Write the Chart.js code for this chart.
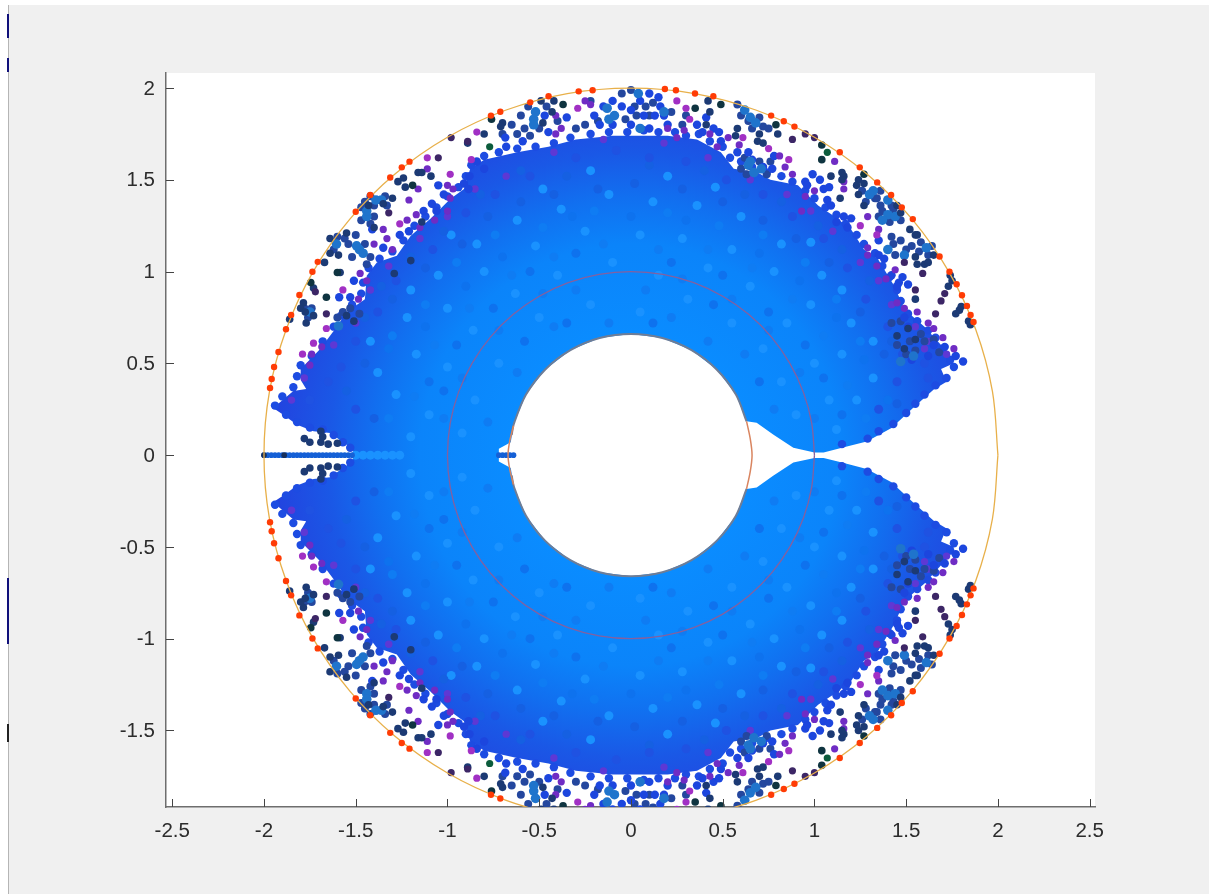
<!DOCTYPE html>
<html>
<head>
<meta charset="utf-8">
<script src="https://cdn.jsdelivr.net/npm/chart.js@4"></script>
<style>
body { margin: 0; background: #fff; }
canvas { display: block; filter: blur(0.4px); }
.mark { position: absolute; left: 7px; width: 2px; background: #10107a; }
</style>
</head>
<body>
<canvas id="myChart" width="1209" height="894"></canvas>
<div class="mark" style="top:14px;height:24px"></div>
<div class="mark" style="top:58px;height:14px"></div>
<div class="mark" style="top:578px;height:66px"></div>
<div class="mark" style="top:724px;height:18px;background:#222"></div>
<script>
const xTicks = [-2.5, -2, -1.5, -1, -0.5, 0, 0.5, 1, 1.5, 2, 2.5];
const yTicks = [-1.5, -1, -0.5, 0, 0.5, 1, 1.5, 2];

const ring2 = [[2,0],[1.97,.347],[1.879,.684],[1.732,1],[1.532,1.286],[1.286,1.532],[1,1.732],[.684,1.879],[.347,1.97],[0,2],[-.347,1.97],[-.684,1.879],[-1,1.732],[-1.286,1.532],[-1.532,1.286],[-1.732,1],[-1.879,.684],[-1.97,.347],[-2,0],[-1.97,-.347],[-1.879,-.684],[-1.732,-1],[-1.532,-1.286],[-1.286,-1.532],[-1,-1.732],[-.684,-1.879],[-.347,-1.97],[0,-2],[.347,-1.97],[.684,-1.879],[1,-1.732],[1.286,-1.532],[1.532,-1.286],[1.732,-1],[1.879,-.684],[1.97,-.347],[2,0]];
const ring1 = [[1,0],[.985,.174],[.94,.342],[.866,.5],[.766,.643],[.643,.766],[.5,.866],[.342,.94],[.174,.985],[0,1],[-.174,.985],[-.342,.94],[-.5,.866],[-.643,.766],[-.766,.643],[-.866,.5],[-.94,.342],[-.985,.174],[-1,0],[-.985,-.174],[-.94,-.342],[-.866,-.5],[-.766,-.643],[-.643,-.766],[-.5,-.866],[-.342,-.94],[-.174,-.985],[0,-1],[.174,-.985],[.342,-.94],[.5,-.866],[.643,-.766],[.766,-.643],[.866,-.5],[.94,-.342],[.985,-.174],[1,0]];
const holeTop = [[.63,.184],[.572,.33],[.467,.467],[.33,.572],[.171,.638],[0,.66],[-.171,.638],[-.33,.572],[-.467,.467],[-.572,.33],[-.638,.171],[-.65,.11]];
const holeBottom = [[.63,-.184],[.572,-.33],[.467,-.467],[.33,-.572],[.171,-.638],[0,-.66],[-.171,-.638],[-.33,-.572],[-.467,-.467],[-.572,-.33],[-.638,-.171],[-.65,-.11]];
const mouthArc = [[.63,.184],[.65,.09],[.66,0],[.65,-.09],[.63,-.184]];
const notchArc = [[-.64,.16],[-.66,.08],[-.67,0],[-.66,-.08],[-.64,-.16]];

// outline of the cloud: outer edge going round the left, then back along the hole
const cloudOutline = [[1,.015],[1.05,.015],[1.15,.04],[1.285,.075],[1.42,.148],[1.54,.26],[1.65,.357],[1.72,.4],[1.69,.47],[1.76,.5],[1.69,.6],[1.6,.7],[1.49,.795],[1.436,.92],[1.345,1.07],[1.27,1.12],[1.2,1.23],[1.11,1.3],[1.02,1.36],[.91,1.47],[.76,1.5],[.69,1.54],[.56,1.56],[.49,1.65],[.36,1.72],[.2,1.74],[.09,1.74],[-.1,1.74],[-.3,1.72],[-.45,1.68],[-.62,1.65],[-.8,1.61],[-.876,1.56],[-.91,1.45],[-.985,1.395],[-1.09,1.29],[-1.2,1.195],[-1.276,1.086],[-1.385,1.05],[-1.44,.977],[-1.45,.85],[-1.55,.78],[-1.6,.704],[-1.695,.577],[-1.8,.47],[-1.8,.41],[-1.77,.36],[-1.84,.35],[-1.95,.257],[-1.895,.22],[-1.82,.166],[-1.73,.13],[-1.64,.12],[-1.55,.057],[-1.52,.03],[-1.5,0],
[-1.52,-.03],[-1.55,-.057],[-1.64,-.12],[-1.73,-.13],[-1.82,-.166],[-1.895,-.22],[-1.95,-.257],[-1.84,-.35],[-1.77,-.36],[-1.8,-.41],[-1.8,-.47],[-1.695,-.577],[-1.6,-.704],[-1.55,-.78],[-1.45,-.85],[-1.44,-.977],[-1.385,-1.05],[-1.276,-1.086],[-1.2,-1.195],[-1.09,-1.29],[-.985,-1.395],[-.91,-1.45],[-.876,-1.56],[-.8,-1.61],[-.62,-1.65],[-.45,-1.68],[-.3,-1.72],[-.1,-1.74],[.09,-1.74],[.2,-1.74],[.36,-1.72],[.49,-1.65],[.56,-1.56],[.69,-1.54],[.76,-1.5],[.91,-1.47],[1.02,-1.36],[1.11,-1.3],[1.2,-1.23],[1.27,-1.12],[1.345,-1.07],[1.436,-.92],[1.49,-.795],[1.6,-.7],[1.69,-.6],[1.76,-.5],[1.69,-.47],[1.72,-.4],[1.65,-.357],[1.54,-.26],[1.42,-.148],[1.285,-.075],[1.15,-.04],[1.05,-.015],[1,-.015],
[.885,-.04],[.775,-.112],[.685,-.176],[.63,-.184],[.572,-.33],[.467,-.467],[.33,-.572],[.171,-.638],[0,-.66],[-.171,-.638],[-.33,-.572],[-.467,-.467],[-.572,-.33],[-.638,-.171],[-.655,-.07],[-.72,-.035],[-.72,.035],[-.655,.07],[-.638,.171],[-.572,.33],[-.467,.467],[-.33,.572],[-.171,.638],[0,.66],[.171,.638],[.33,.572],[.467,.467],[.572,.33],[.63,.184],[.685,.176],[.775,.112],[.885,.04]];
const cloudStops = [[.66,'#0a8cff'],[1.15,'#0b84fa'],[1.4,'#1170f0'],[1.65,'#1a58e6'],[2,'#2440de']];

const softDots = [[.22,.75],[-.12,.72],[.42,.62],[-.42,.7],[.62,.55],[-.62,.45],[.78,.25],[-.78,.18],[.08,.9],[-.3,.9],[.28,.96],[.55,.85],[-.48,.88],[.75,.68],[-.72,.68],[.92,.45],[-.92,.42],[1,.2],[-1.02,.2],[.15,1.12],[-.15,1.15],[.42,1.12],[-.42,1.08],[.66,1.02],[-.65,.98],[.88,.85],[-.88,.8],[1.05,.65],[-1.07,.6],[1.18,.38],[-1.18,.32],[.2,1.32],[-.2,1.33],[.48,1.25],[-.48,1.24],[.72,1.2],[-.74,1.2],[.95,1.05],[-.95,1.05],[1.12,.85],[-1.12,.82],[1.25,.62],[-1.3,.65],[1.28,.2],[-1.32,.2],
[.22,-.75],[-.12,-.72],[.42,-.62],[-.42,-.7],[.62,-.55],[-.62,-.45],[.78,-.25],[-.78,-.18],[.08,-.9],[-.3,-.9],[.28,-.96],[.55,-.85],[-.48,-.88],[.75,-.68],[-.72,-.68],[.92,-.45],[-.92,-.42],[1,-.2],[-1.02,-.2],[.15,-1.12],[-.15,-1.15],[.42,-1.12],[-.42,-1.08],[.66,-1.02],[-.65,-.98],[.88,-.85],[-.88,-.8],[1.05,-.65],[-1.07,-.6],[1.18,-.38],[-1.18,-.32],[.2,-1.32],[-.2,-1.33],[.48,-1.25],[-.48,-1.24],[.72,-1.2],[-.74,-1.2],[.95,-1.05],[-.95,-1.05],[1.12,-.85],[-1.12,-.82],[1.25,-.62],[-1.3,-.65],[1.28,-.2],[-1.32,-.2]];
const bandDots = [[.02,1.48],[-.18,1.45],[.28,1.45],[-.42,1.42],[.5,1.38],[-.6,1.38],[.72,1.28],[-.78,1.3],[.9,1.18],[-.92,1.15],[1.08,1.05],[-1.12,1.02],[1.25,.78],[-1.3,.85],[1.38,.55],[-1.45,.5],[1.45,.28],[-1.4,.2],[-1.55,.35],[.1,1.58],[-.35,1.52],[.4,1.55],[-.6,1.55],[.62,1.42],[-.82,1.42],[.82,1.38],[-1.02,1.22],[1.02,1.25],[-1.2,1.08],[1.15,1.12],[-1.36,.92],[1.3,.95],[-1.45,.75],[1.42,.62],
[.02,-1.48],[-.18,-1.45],[.28,-1.45],[-.42,-1.42],[.5,-1.38],[-.6,-1.38],[.72,-1.28],[-.78,-1.3],[.9,-1.18],[-.92,-1.15],[1.08,-1.05],[-1.12,-1.02],[1.25,-.78],[-1.3,-.85],[1.38,-.55],[-1.45,-.5],[1.45,-.28],[-1.4,-.2],[-1.55,-.35],[.1,-1.58],[-.35,-1.52],[.4,-1.55],[-.6,-1.55],[.62,-1.42],[-.82,-1.42],[.82,-1.38],[-1.02,-1.22],[1.02,-1.25],[-1.2,-1.08],[1.15,-1.12],[-1.36,-.92],[1.3,-.95],[-1.45,-.75],[1.42,-.62]];
const lightDots = [[.05,.78],[-.22,.82],[.31,.85],[.55,.72],[-.5,.75],[.72,.58],[-.72,.5],[.82,.4],[-.85,.3],[.9,.22],[-.92,.12],[.15,.98],[-.1,1.05],[.42,1.02],[-.4,.98],[.65,.92],[-.63,.88],[.85,.72],[-.86,.68],[1,.5],[-1,.48],[1.08,.3],[-1.1,.22],[1.12,.14],[-1.2,.1],[.05,1.2],[-.25,1.22],[.28,1.18],[.55,1.12],[-.52,1.14],[.78,1],[-.8,1],[.98,.82],[-1,.8],[1.15,.55],[-1.17,.55],[1.23,.3],[-1.28,.33],[.12,1.38],[-.12,1.42],[.36,1.36],[-.38,1.34],[.6,1.3],[-.62,1.28],[.82,1.15],[-.84,1.15],[1.04,.98],[-1.05,.98],[1.2,.72],[-1.22,.75],[1.32,.42],[-1.38,.45],[.2,1.52],[-.22,1.55],[.46,1.46],[-.48,1.45],[.98,1.16],[-.98,1.2],[1.15,.9],[-1.2,.9],[1.32,.62],[-1.42,.62],
[.05,-.78],[-.22,-.82],[.31,-.85],[.55,-.72],[-.5,-.75],[.72,-.58],[-.72,-.5],[.82,-.4],[-.85,-.3],[.9,-.22],[-.92,-.12],[.15,-.98],[-.1,-1.05],[.42,-1.02],[-.4,-.98],[.65,-.92],[-.63,-.88],[.85,-.72],[-.86,-.68],[1,-.5],[-1,-.48],[1.08,-.3],[-1.1,-.22],[1.12,-.14],[-1.2,-.1],[.05,-1.2],[-.25,-1.22],[.28,-1.18],[.55,-1.12],[-.52,-1.14],[.78,-1],[-.8,-1],[.98,-.82],[-1,-.8],[1.15,-.55],[-1.17,-.55],[1.23,-.3],[-1.28,-.33],[.12,-1.38],[-.12,-1.42],[.36,-1.36],[-.38,-1.34],[.6,-1.3],[-.62,-1.28],[.82,-1.15],[-.84,-1.15],[1.04,-.98],[-1.05,-.98],[1.2,-.72],[-1.22,-.75],[1.32,-.42],[-1.38,-.45],[.2,-1.52],[-.22,-1.55],[.46,-1.46],[-.48,-1.45],[.98,-1.16],[-.98,-1.2],[1.15,-.9],[-1.2,-.9],[1.32,-.62],[-1.42,-.62],
[-1.5,0],[-1.46,0],[-1.42,0],[-1.38,0],[-1.34,0],[-1.3,0],[-1.26,0]];
const midDots = [[.12,.72],[-.35,.72],[.45,.82],[-.58,.62],[.7,.4],[.22,1.05],[-.3,1.1],[.5,.98],[-.55,1],[.75,.78],[-.75,.8],[.95,.6],[-.95,.6],[1.05,.42],[-1.02,.35],[1.15,.22],[-1.1,.4],[0,1.3],[.3,1.28],[-.32,1.3],[.7,1.1],[-.7,1.08],[.92,.95],[-.9,.92],[1.12,.75],[-1.12,.7],[1.27,.52],[-1.32,.58],[1.4,.3],
[.12,-.72],[-.35,-.72],[.45,-.82],[-.58,-.62],[.7,-.4],[.22,-1.05],[-.3,-1.1],[.5,-.98],[-.55,-1],[.75,-.78],[-.75,-.8],[.95,-.6],[-.95,-.6],[1.05,-.42],[-1.02,-.35],[1.15,-.22],[-1.1,-.4],[0,-1.3],[.3,-1.28],[-.32,-1.3],[.7,-1.1],[-.7,-1.08],[.92,-.95],[-.9,-.92],[1.12,-.75],[-1.12,-.7],[1.27,-.52],[-1.32,-.58],[1.4,-.3]];
const deepDots = [[.1,1.62],[-.08,1.66],[.3,1.6],[-.3,1.62],[.52,1.5],[-.55,1.52],[.72,1.42],[-.74,1.42],[.88,1.3],[-.9,1.32],[1.05,1.18],[-1.08,1.12],[1.18,1.02],[-1.28,.95],[1.28,.85],[-1.38,.78],[1.4,.7],[-1.5,.62],[1.48,.55],[-1.58,.48],[1.6,.5],[-1.65,.4],[1.62,.42],[-1.75,.3],[1.45,.4],[-1.5,.25],[1.35,.25],
[.1,-1.62],[-.08,-1.66],[.3,-1.6],[-.3,-1.62],[.52,-1.5],[-.55,-1.52],[.72,-1.42],[-.74,-1.42],[.88,-1.3],[-.9,-1.32],[1.05,-1.18],[-1.08,-1.12],[1.18,-1.02],[-1.28,-.95],[1.28,-.85],[-1.38,-.78],[1.4,-.7],[-1.5,-.62],[1.48,-.55],[-1.58,-.48],[1.6,-.5],[-1.65,-.4],[1.62,-.42],[-1.75,-.3],[1.45,-.4],[-1.5,-.25],[1.35,-.25]];
const edgeDots = [[1.15,.06],[1.29,.09],[1.35,.13],[1.43,.17],[1.5,.23],[1.55,.28],[1.6,.33],[1.66,.38],[1.72,.42],[1.76,.48],[1.74,.52],[1.7,.58],[1.66,.64],[1.62,.68],[1.56,.73],[1.51,.77],[1.47,.84],[1.45,.9],[1.41,.97],[1.37,1.03],[1.33,1.1],[1.27,1.15],[1.23,1.2],[1.17,1.26],[1.12,1.31],[1.06,1.35],[1,1.4],[.95,1.44],[.88,1.49],[.82,1.52],[.74,1.54],[.66,1.57],[.6,1.6],[.54,1.62],[.5,1.68],[.43,1.71],[.37,1.75],[.3,1.74],[.24,1.76],[.15,1.76],[.07,1.77],[-.02,1.76],[-.12,1.76],[-.22,1.75],[-.33,1.73],[-.42,1.7],[-.52,1.68],[-.62,1.67],[-.72,1.65],[-.8,1.63],[-.87,1.58],[-.9,1.52],[-.94,1.46],[-1,1.41],[-1.06,1.35],[-1.12,1.3],[-1.18,1.25],[-1.24,1.17],[-1.3,1.11],[-1.37,1.07],[-1.43,1.02],[-1.46,.94],[-1.47,.88],[-1.52,.82],[-1.58,.76],[-1.62,.7],[-1.68,.62],[-1.74,.54],[-1.8,.49],[-1.82,.43],[-1.84,.37],[-1.9,.32],[-1.94,.27],[-1.88,.22],[-1.82,.18],[-1.75,.15],[-1.68,.14],[-1.62,.11],[-1.57,.07],[-1.53,.04],
[1.15,-.06],[1.29,-.09],[1.35,-.13],[1.43,-.17],[1.5,-.23],[1.55,-.28],[1.6,-.33],[1.66,-.38],[1.72,-.42],[1.76,-.48],[1.74,-.52],[1.7,-.58],[1.66,-.64],[1.62,-.68],[1.56,-.73],[1.51,-.77],[1.47,-.84],[1.45,-.9],[1.41,-.97],[1.37,-1.03],[1.33,-1.1],[1.27,-1.15],[1.23,-1.2],[1.17,-1.26],[1.12,-1.31],[1.06,-1.35],[1,-1.4],[.95,-1.44],[.88,-1.49],[.82,-1.52],[.74,-1.54],[.66,-1.57],[.6,-1.6],[.54,-1.62],[.5,-1.68],[.43,-1.71],[.37,-1.75],[.3,-1.74],[.24,-1.76],[.15,-1.76],[.07,-1.77],[-.02,-1.76],[-.12,-1.76],[-.22,-1.75],[-.33,-1.73],[-.42,-1.7],[-.52,-1.68],[-.62,-1.67],[-.72,-1.65],[-.8,-1.63],[-.87,-1.58],[-.9,-1.52],[-.94,-1.46],[-1,-1.41],[-1.06,-1.35],[-1.12,-1.3],[-1.18,-1.25],[-1.24,-1.17],[-1.3,-1.11],[-1.37,-1.07],[-1.43,-1.02],[-1.46,-.94],[-1.47,-.88],[-1.52,-.82],[-1.58,-.76],[-1.62,-.7],[-1.68,-.62],[-1.74,-.54],[-1.8,-.49],[-1.82,-.43],[-1.84,-.37],[-1.9,-.32],[-1.94,-.27],[-1.88,-.22],[-1.82,-.18],[-1.75,-.15],[-1.68,-.14],[-1.62,-.11],[-1.57,-.07],[-1.53,-.04]];
const violetDots = [[.18,1.7],[-.15,1.72],[.42,1.62],[-.42,1.65],[.65,1.5],[-.68,1.52],[.85,1.42],[-.85,1.45],[.98,1.33],[-1,1.3],[1.1,1.22],[-1.15,1.18],[1.25,1.05],[-1.32,1.03],[1.35,.95],[-1.42,.9],[1.42,.82],[-1.5,.72],[1.55,.7],[-1.62,.6],[1.62,.62],[-1.78,.42],[1.72,.55],[-1.85,.3],[1.6,.58],
[.18,-1.7],[-.15,-1.72],[.42,-1.62],[-.42,-1.65],[.65,-1.5],[-.68,-1.52],[.85,-1.42],[-.85,-1.45],[.98,-1.33],[-1,-1.3],[1.1,-1.22],[-1.15,-1.18],[1.25,-1.05],[-1.32,-1.03],[1.35,-.95],[-1.42,-.9],[1.42,-.82],[-1.5,-.72],[1.55,-.7],[-1.62,-.6],[1.62,-.62],[-1.78,-.42],[1.72,-.55],[-1.85,-.3],[1.6,-.58]];

const clusterDots = [[1.36,1.36],[1.42,1.36],[1.37,1.33],[1.43,1.34],[1.35,1.3],[1.41,1.27],[1.33,1.4],[1.47,1.28],[1.58,1.16],[1.62,1.09],[1.57,1.11],[1.64,1.14],[1.53,1.14],[1.5,1.12],[1.43,1.15],[1.44,1.09],[1.42,1.19],[1.47,1.17],[.6,1.85],[.64,1.82],[.7,1.84],[.72,1.79],[.66,1.78],[.75,1.78],[.58,1.91],[.62,1.62],[.7,1.6],[.76,1.6],[.6,1.56],[.74,1.53],[.63,1.53],[-.22,1.93],[-.18,1.82],[-.03,1.83],[.03,1.85],[.1,1.85],[.22,1.87],[-.05,1.97],[0,1.99],[.08,1.9],[.12,1.92],[.02,1.9],[.28,1.8],[.3,1.85],[-.6,1.85],[-.56,1.9],[-.5,1.78],[-.46,1.9],[-.58,1.78],[-.55,1.74],[-.4,1.82],[-.65,1.8],[-.3,1.78],[-.25,1.8],[-.7,1.75],[-.62,1.75],[-1.34,1.41],[-1.4,1.36],[-1.33,1.36],[-1.42,1.41],[-1.45,1.38],[-1.47,1.28],[-1.42,1.26],[-1.47,1.35],[-1.4,1.3],[-1.6,1.19],[-1.62,1.12],[-1.54,1.15],[-1.52,1.08],[-1.45,1.15],[-1.42,1.08],[-1.5,1.2],[-1.56,1.18],[-1.44,1.04],[-1.78,.8],[-1.74,.8],[-1.76,.75],[-1.6,.75],[-1.53,.8],[-1.57,.78],[-1.48,.77],[1.5,.55],[1.45,.6],[1.55,.57],[1.6,.62],[1.42,.72],[1.47,.73],[1.58,.66],[1.52,.62],[1.65,.63],[1.68,.56],[1.26,1.44],[1.34,1.4],[1.28,1.38],[1.36,1.44],
[1.36,-1.36],[1.42,-1.36],[1.37,-1.33],[1.43,-1.34],[1.35,-1.3],[1.41,-1.27],[1.33,-1.4],[1.47,-1.28],[1.58,-1.16],[1.62,-1.09],[1.57,-1.11],[1.64,-1.14],[1.53,-1.14],[1.5,-1.12],[1.43,-1.15],[1.44,-1.09],[1.42,-1.19],[1.47,-1.17],[.6,-1.85],[.64,-1.82],[.7,-1.84],[.72,-1.79],[.66,-1.78],[.75,-1.78],[.58,-1.91],[.62,-1.62],[.7,-1.6],[.76,-1.6],[.6,-1.56],[.74,-1.53],[.63,-1.53],[-.22,-1.93],[-.18,-1.82],[-.03,-1.83],[.03,-1.85],[.1,-1.85],[.22,-1.87],[-.05,-1.97],[0,-1.99],[.08,-1.9],[.12,-1.92],[.02,-1.9],[.28,-1.8],[.3,-1.85],[-.6,-1.85],[-.56,-1.9],[-.5,-1.78],[-.46,-1.9],[-.58,-1.78],[-.55,-1.74],[-.4,-1.82],[-.65,-1.8],[-.3,-1.78],[-.25,-1.8],[-.7,-1.75],[-.62,-1.75],[-1.34,-1.41],[-1.4,-1.36],[-1.33,-1.36],[-1.42,-1.41],[-1.45,-1.38],[-1.47,-1.28],[-1.42,-1.26],[-1.47,-1.35],[-1.4,-1.3],[-1.6,-1.19],[-1.62,-1.12],[-1.54,-1.15],[-1.52,-1.08],[-1.45,-1.15],[-1.42,-1.08],[-1.5,-1.2],[-1.56,-1.18],[-1.44,-1.04],[-1.78,-.8],[-1.74,-.8],[-1.76,-.75],[-1.6,-.75],[-1.53,-.8],[-1.57,-.78],[-1.48,-.77],[1.5,-.55],[1.45,-.6],[1.55,-.57],[1.6,-.62],[1.42,-.72],[1.47,-.73],[1.58,-.66],[1.52,-.62],[1.65,-.63],[1.68,-.56],[1.26,-1.44],[1.34,-1.4],[1.28,-1.38],[1.36,-1.44]];
const blueDots = [[.41,1.84],[.36,1.8],[.39,1.76],[.45,1.78],[.48,1.76],[.49,1.71],[.58,1.65],[.64,1.65],[.66,1.61],[.72,1.57],[.77,1.56],[.78,1.63],[.99,1.53],[1.03,1.5],[.95,1.49],[.96,1.47],[1.05,1.45],[1.08,1.46],[1.07,1.39],[1.09,1.36],[1.16,1.3],[1.2,1.29],[1.18,1.24],[1.12,1.27],[1.35,1.17],[1.35,1.09],[1.38,1.07],[1.42,.98],[1.46,.94],[1.48,.97],[1.51,.93],[1.45,.92],[1.81,.51],[1.77,.54],[1.71,.59],[1.65,.6],[1.62,.54],[1.53,.52],[1.49,.75],[1.51,.7],[-.2,1.85],[-.15,1.9],[-.1,1.93],[-.05,1.9],[0,1.88],[.05,1.93],[.1,1.97],[.15,1.95],[.18,1.85],[.13,1.85],[.07,1.85],[0,1.8],[-.1,1.8],[-.17,1.8],[.2,1.8],[.1,1.78],[.16,1.9],[-.35,1.84],[-.47,1.85],[-.45,1.76],[-.59,1.71],[-.685,1.73],[-.68,1.68],[-1.59,.86],[-1.53,.86],[-1.51,.95],[-1.35,1.13],[-1.26,1.2],[-1.21,1.22],[-1.13,1.33],[-1.06,1.33],[-1.085,1.37],[-1.02,1.42],[-1.05,1.47],[-.91,1.48],[-.88,1.52],[-.885,1.45],[-.84,1.6],[-.8,1.56],[-1.41,1.23],
[.41,-1.84],[.36,-1.8],[.39,-1.76],[.45,-1.78],[.48,-1.76],[.49,-1.71],[.58,-1.65],[.64,-1.65],[.66,-1.61],[.72,-1.57],[.77,-1.56],[.78,-1.63],[.99,-1.53],[1.03,-1.5],[.95,-1.49],[.96,-1.47],[1.05,-1.45],[1.08,-1.46],[1.07,-1.39],[1.09,-1.36],[1.16,-1.3],[1.2,-1.29],[1.18,-1.24],[1.12,-1.27],[1.35,-1.17],[1.35,-1.09],[1.38,-1.07],[1.42,-.98],[1.46,-.94],[1.48,-.97],[1.51,-.93],[1.45,-.92],[1.81,-.51],[1.77,-.54],[1.71,-.59],[1.65,-.6],[1.62,-.54],[1.53,-.52],[1.49,-.75],[1.51,-.7],[-.2,-1.85],[-.15,-1.9],[-.1,-1.93],[-.05,-1.9],[0,-1.88],[.05,-1.93],[.1,-1.97],[.15,-1.95],[.18,-1.85],[.13,-1.85],[.07,-1.85],[0,-1.8],[-.1,-1.8],[-.17,-1.8],[.2,-1.8],[.1,-1.78],[.16,-1.9],[-.35,-1.84],[-.47,-1.85],[-.45,-1.76],[-.59,-1.71],[-.685,-1.73],[-.68,-1.68],[-1.59,-.86],[-1.53,-.86],[-1.51,-.95],[-1.35,-1.13],[-1.26,-1.2],[-1.21,-1.22],[-1.13,-1.33],[-1.06,-1.33],[-1.085,-1.37],[-1.02,-1.42],[-1.05,-1.47],[-.91,-1.48],[-.88,-1.52],[-.885,-1.45],[-.84,-1.6],[-.8,-1.56],[-1.41,-1.23]];
const tealDots = [[.62,1.88],[.65,1.84],[.68,1.81],[.71,1.56],[.67,1.54],[.64,1.58],[.65,1.6],[1.32,1.44],[1.3,1.42],[1.4,1.39],[1.4,1.31],[1.44,1.3],[1.37,1.28],[1.61,1.13],[1.4,1.12],[1.49,1.09],[1.54,.54],[1.47,.51],[.18,1.87],[.04,1.97],[.05,1.78],[-.53,1.83],[-.52,1.87],[-.53,1.8],[-.12,1.83],[-.09,1.85],[-.13,1.89],[-1.36,1.39],[-1.39,1.39],[-1.44,1.3],[-1.44,1.33],[-1.605,1.15],[-1.48,1.12],[-1.495,1.14],[-1.46,1.1],[-1.75,.78],[-1.594,.704],
[.62,-1.88],[.65,-1.84],[.68,-1.81],[.71,-1.56],[.67,-1.54],[.64,-1.58],[.65,-1.6],[1.32,-1.44],[1.3,-1.42],[1.4,-1.39],[1.4,-1.31],[1.44,-1.3],[1.37,-1.28],[1.61,-1.13],[1.4,-1.12],[1.49,-1.09],[1.54,-.54],[1.47,-.51],[.18,-1.87],[.04,-1.97],[.05,-1.78],[-.53,-1.83],[-.52,-1.87],[-.53,-1.8],[-.12,-1.83],[-.09,-1.85],[-.13,-1.89],[-1.36,-1.39],[-1.39,-1.39],[-1.44,-1.3],[-1.44,-1.33],[-1.605,-1.15],[-1.48,-1.12],[-1.495,-1.14],[-1.46,-1.1],[-1.75,-.78],[-1.594,-.704]];
const purpleDots = [[.2,1.78],[.25,1.73],[.29,1.77],[.43,1.75],[.53,1.73],[.47,1.68],[.59,1.69],[.84,1.57],[.81,1.63],[.88,1.53],[1.11,1.6],[1.16,1.49],[1.16,1.45],[1.29,1.3],[1.35,1.23],[1.29,1.13],[1.29,1.09],[1.34,1.03],[1.39,.96],[1.44,1.01],[1.45,.83],[1.49,.8],[1.56,.78],[1.62,.72],[1.65,.69],[1.7,.64],[1.76,.58],[.95,1.41],[1,1.44],[.93,1.33],[-.25,1.93],[-.22,1.91],[-.41,1.85],[-.38,1.78],[-.41,1.75],[-1.11,1.56],[-1.16,1.45],[-1.21,1.39],[-1,1.47],[-.97,1.45],[-.985,1.4],[-1,1.33],[-1.17,1.31],[-1.22,1.28],[-1.07,1.28],[-1.15,1.24],[-1.35,1.23],[-1.33,1.18],[-1.4,1.15],[-1.3,1.12],[-1.476,.99],[-1.44,.95],[-1.485,.85],[-1.74,.55],[-1.685,.59],[-1.75,.49],
[.2,-1.78],[.25,-1.73],[.29,-1.77],[.43,-1.75],[.53,-1.73],[.47,-1.68],[.59,-1.69],[.84,-1.57],[.81,-1.63],[.88,-1.53],[1.11,-1.6],[1.16,-1.49],[1.16,-1.45],[1.29,-1.3],[1.35,-1.23],[1.29,-1.13],[1.29,-1.09],[1.34,-1.03],[1.39,-.96],[1.44,-1.01],[1.45,-.83],[1.49,-.8],[1.56,-.78],[1.62,-.72],[1.65,-.69],[1.7,-.64],[1.76,-.58],[.95,-1.41],[1,-1.44],[.93,-1.33],[-.25,-1.93],[-.22,-1.91],[-.41,-1.85],[-.38,-1.78],[-.41,-1.75],[-1.11,-1.56],[-1.16,-1.45],[-1.21,-1.39],[-1,-1.47],[-.97,-1.45],[-.985,-1.4],[-1,-1.33],[-1.17,-1.31],[-1.22,-1.28],[-1.07,-1.28],[-1.15,-1.24],[-1.35,-1.23],[-1.33,-1.18],[-1.4,-1.15],[-1.3,-1.12],[-1.476,-.99],[-1.44,-.95],[-1.485,-.85],[-1.74,-.55],[-1.685,-.59],[-1.75,-.49]];
const magentaDots = [[.25,1.93],[.3,1.89],[.32,1.83],[.61,1.73],[.75,1.67],[.86,1.61],[1.25,1.25],[1.34,1.2],[-.29,1.89],[-.87,1.61],[-.84,1.76],[-.985,1.53],[-1.11,1.62],[-1.57,.9],[-1.66,.69],[-1.73,.61],[-1.79,.55],[-1.26,1.26],
[.25,-1.93],[.3,-1.89],[.32,-1.83],[.61,-1.73],[.75,-1.67],[.86,-1.61],[1.25,-1.25],[1.34,-1.2],[-.29,-1.89],[-.87,-1.61],[-.84,-1.76],[-.985,-1.53],[-1.11,-1.62],[-1.57,-.9],[-1.66,-.69],[-1.73,-.61],[-1.79,-.55],[-1.26,-1.26]];
const navyDots = [[.42,1.93],[.41,1.8],[.43,1.87],[.58,1.78],[.57,1.74],[.69,1.71],[.72,1.7],[.7,1.75],[.8,1.75],[1.09,1.52],[1.15,1.54],[1.16,1.52],[1.15,1.5],[1.24,1.5],[1.23,1.47],[1.27,1.48],[1.24,1.42],[1.27,1.36],[1.14,1.4],[1.45,1.36],[1.47,1.32],[1.55,1.2],[1.52,1.23],[1.56,1.2],[1.55,1.08],[1.6,1.04],[1.56,1.04],[1.62,1.05],[1.65,1.09],[1.74,.98],[1.75,.95],[1.73,.92],[1.55,.85],[1.8,.81],[1.79,.79],[1.77,.77],[1.84,.73],[1.85,.71],[1.45,.65],[1.51,.69],[1.55,.63],[1.49,.58],[-.49,1.93],[-.42,1.93],[-.48,1.81],[-.43,1.87],[-.7,1.81],[-.71,1.79],[-.8,1.75],[-.89,1.7],[-1.16,1.54],[-1.14,1.54],[-1.09,1.52],[-1.24,1.51],[-1.27,1.49],[-1.23,1.46],[-1.3,1.4],[-1.35,1.37],[-1.43,1.36],[-1.4,1.24],[-1.14,1.27],[-1.2,1.06],[-1.29,.99],[-1.585,.995],[-1.67,1.05],[-1.73,.91],[-1.785,.83],[-1.8,.8],[-1.775,.78],[-1.86,.74],[-1.77,.72],[-1.73,.76],[-1.55,.76],[-1.51,.73],[-1.64,1.18],[-1.64,1.1],[-1.594,1.09],[-1.55,1.21],[-1.78,.09],[-1.75,.07],[-1.69,.13],[-1.69,.07],[-1.68,.1],[-1.6,.065],[-1.65,.06],
[.42,-1.93],[.41,-1.8],[.43,-1.87],[.58,-1.78],[.57,-1.74],[.69,-1.71],[.72,-1.7],[.7,-1.75],[.8,-1.75],[1.09,-1.52],[1.15,-1.54],[1.16,-1.52],[1.15,-1.5],[1.24,-1.5],[1.23,-1.47],[1.27,-1.48],[1.24,-1.42],[1.27,-1.36],[1.14,-1.4],[1.45,-1.36],[1.47,-1.32],[1.55,-1.2],[1.52,-1.23],[1.56,-1.2],[1.55,-1.08],[1.6,-1.04],[1.56,-1.04],[1.62,-1.05],[1.65,-1.09],[1.74,-.98],[1.75,-.95],[1.73,-.92],[1.55,-.85],[1.8,-.81],[1.79,-.79],[1.77,-.77],[1.84,-.73],[1.85,-.71],[1.45,-.65],[1.51,-.69],[1.55,-.63],[1.49,-.58],[-.49,-1.93],[-.42,-1.93],[-.48,-1.81],[-.43,-1.87],[-.7,-1.81],[-.71,-1.79],[-.8,-1.75],[-.89,-1.7],[-1.16,-1.54],[-1.14,-1.54],[-1.09,-1.52],[-1.24,-1.51],[-1.27,-1.49],[-1.23,-1.46],[-1.3,-1.4],[-1.35,-1.37],[-1.43,-1.36],[-1.4,-1.24],[-1.14,-1.27],[-1.2,-1.06],[-1.29,-.99],[-1.585,-.995],[-1.67,-1.05],[-1.73,-.91],[-1.785,-.83],[-1.8,-.8],[-1.775,-.78],[-1.86,-.74],[-1.77,-.72],[-1.73,-.76],[-1.55,-.76],[-1.51,-.73],[-1.64,-1.18],[-1.64,-1.1],[-1.594,-1.09],[-1.55,-1.21],[-1.78,-.09],[-1.75,-.07],[-1.69,-.13],[-1.69,-.07],[-1.68,-.1],[-1.6,-.065],[-1.65,-.06]];
const plumDots = [[.95,1.75],[1,1.73],[.88,1.72],[1.55,.9],[1.59,.99],[1.49,1.05],[1.66,.77],[1.69,.84],[1.71,.88],[-.98,1.73],[-1.05,1.62],[-.89,1.71],[-1.32,1.32],[-1.66,.77],[-1.72,.89],
[.95,-1.75],[1,-1.73],[.88,-1.72],[1.55,-.9],[1.59,-.99],[1.49,-1.05],[1.66,-.77],[1.69,-.84],[1.71,-.88],[-.98,-1.73],[-1.05,-1.62],[-.89,-1.71],[-1.32,-1.32],[-1.66,-.77],[-1.72,-.89]];
const darkDots = [[.35,1.89],[.49,1.91],[.79,1.8],[1.04,1.69],[1.04,1.61],[1.27,1.53],[-.76,1.83],[-.37,1.91],[-1.19,1.47],[-1.66,.86],[-1.6,.995],[-1.745,.94],
[.35,-1.89],[.49,-1.91],[.79,-1.8],[1.04,-1.69],[1.04,-1.61],[1.27,-1.53],[-.76,-1.83],[-.37,-1.91],[-1.19,-1.47],[-1.66,-.86],[-1.6,-.995],[-1.745,-.94]];
const greenDots = [[1.07,1.65],[-.77,1.68],[1.07,-1.65],[-.77,-1.68]];
const redDots = [[.185,1.995],[.245,1.988],[.349,1.97],[.449,1.955],[.764,1.85],[.833,1.819],[.891,1.79],[1.138,1.65],[1.247,1.568],[1.342,1.486],[1.418,1.417],[1.476,1.35],[1.536,1.286],[1.682,1.082],[1.736,.999],[1.775,.931],[1.804,.871],[1.831,.813],[1.851,.764],[1.867,.726],[-.285,1.982],[-.209,1.988],[-.449,1.955],[-.549,1.922],[-.712,1.871],[-.763,1.85],[-1.207,1.599],[-1.249,1.568],[-1.312,1.513],[-1.421,1.417],[-1.5,1.326],[-1.707,1.053],[-1.736,.999],[-1.807,.873],[-1.852,.764],[-1.88,.686],[-1.921,.562],[-1.945,.48],[-1.958,.415],[-1.967,.366],
[.764,-1.85],[.833,-1.819],[.891,-1.79],[1.138,-1.65],[1.247,-1.568],[1.342,-1.486],[1.418,-1.417],[1.476,-1.35],[1.536,-1.286],[1.682,-1.082],[1.736,-.999],[1.775,-.931],[1.804,-.871],[1.831,-.813],[1.851,-.764],[1.867,-.726],[-.712,-1.871],[-.763,-1.85],[-1.207,-1.599],[-1.249,-1.568],[-1.312,-1.513],[-1.421,-1.417],[-1.5,-1.326],[-1.707,-1.053],[-1.736,-.999],[-1.807,-.873],[-1.852,-.764],[-1.88,-.686],[-1.921,-.562],[-1.945,-.48],[-1.958,-.415],[-1.967,-.366]];
const slitDots = [[-2,0],[-1.98,0],[-1.96,0],[-1.94,0],[-1.92,0],[-1.9,0],[-1.88,0],[-1.86,0],[-1.84,0],[-1.82,0],[-1.8,0],[-1.78,0],[-1.76,0],[-1.74,0],[-1.72,0],[-1.7,0],[-1.68,0],[-1.66,0],[-1.64,0],[-1.62,0],[-1.6,0],[-1.58,0],[-1.56,0],[-1.54,0],[-1.52,0],[-.72,0],[-.7,0],[-.68,0],[-.66,0],[-.64,0]];
const slitDarkDots = [[-2,0],[-1.89,0]];

function dots(data, color, radius) {
    return { data: data, pointRadius: radius, backgroundColor: color, pointBackgroundColor: color, borderWidth: 0, pointBorderWidth: 0 };
}
function curve(data, color, width) {
    return { data: data, showLine: true, tension: 0.33, capBezierPoints: false, pointRadius: 0, borderColor: color, borderWidth: width, fill: false };
}

// bottom to top
const layers = [
    {
        data: cloudOutline, showLine: true, fill: 'shape', pointRadius: 0, borderWidth: 0, tension: 0,
        backgroundColor: function (c) {
            const s = c.chart.scales;
            const x0 = s.x.getPixelForValue(0), y0 = s.y.getPixelForValue(0);
            const unit = s.x.getPixelForValue(1) - x0;
            // scales have no size yet on the first pass
            if (!isFinite(x0) || !isFinite(y0) || !isFinite(unit) || unit <= 0) return '#0a8cff';
            const g = c.chart.ctx.createRadialGradient(x0, y0, 0, x0, y0, 2 * unit);
            cloudStops.forEach(function (st) { g.addColorStop(st[0] / 2, st[1]); });
            return g;
        }
    },
    dots(softDots, '#0f7cf3', 4.5),
    dots(midDots, '#0e72ee', 4.5),
    dots(lightDots, '#1a92ff', 4.5),
    dots(bandDots, '#1560e2', 4.5),
    dots(deepDots, '#1f52e2', 4.5),
    dots(edgeDots, '#1d4ce2', 4.2),
    dots(violetDots, '#5e38d4', 3.7),
    dots(clusterDots, '#24479e', 4),
    dots(blueDots, '#1c46de', 4.2),
    dots(tealDots, '#1f74cc', 4.8),
    dots(purpleDots, '#6f2cc4', 3.6),
    dots(magentaDots, '#a130c4', 3.6),
    dots(navyDots, '#1c3a74', 3.8),
    dots(plumDots, '#3c2666', 3.6),
    dots(darkDots, '#0f3440', 3.8),
    dots(greenDots, '#0c5c3c', 3.6),
    dots(slitDots, '#1560d6', 2.8),
    dots(slitDarkDots, '#18305c', 2.8),
    curve(holeTop, '#6f7d96', 2),
    curve(holeBottom, '#6f7d96', 2),
    curve(mouthArc, '#d98560', 1.5),
    curve(notchArc, '#d98560', 1.5),
    curve(ring1, '#85609f', 1.3),
    curve(ring2, '#e8b04a', 1.3),
    dots(redDots, '#ff3c05', 3.2)
];
layers.forEach(function (d, i) { d.order = layers.length - i; });

const figurePlugin = {
    id: 'figure',
    beforeDraw: function (chart) {
        const ctx = chart.ctx, a = chart.chartArea;
        ctx.save();
        ctx.fillStyle = '#f0f0f0';
        ctx.fillRect(8, 5, chart.width - 8, chart.height - 5);
        ctx.fillStyle = '#b5b5b5';
        ctx.fillRect(8, 5, 1, chart.height - 5);
        ctx.fillStyle = '#fff';
        ctx.fillRect(a.left, a.top, a.right - a.left, a.bottom - a.top);
        ctx.restore();
    },
    afterDatasetsDraw: function (chart) {
        // inward ticks
        const ctx = chart.ctx, a = chart.chartArea, s = chart.scales;
        ctx.save();
        ctx.strokeStyle = '#444';
        ctx.lineWidth = 1;
        ctx.beginPath();
        xTicks.forEach(function (v) {
            const p = Math.round(s.x.getPixelForValue(v)) + 0.5;
            ctx.moveTo(p, a.bottom);
            ctx.lineTo(p, a.bottom - 8);
        });
        yTicks.forEach(function (v) {
            const p = Math.round(s.y.getPixelForValue(v)) + 0.5;
            ctx.moveTo(a.left, p);
            ctx.lineTo(a.left + 8, p);
        });
        ctx.stroke();
        ctx.restore();
    }
};

function axis(min, max, ticks, padding, offset, fit) {
    return {
        type: 'linear',
        min: min,
        max: max,
        afterBuildTicks: function (scale) { scale.ticks = ticks.map(function (v) { return { value: v }; }); },
        afterFit: fit,
        grid: { display: false, drawTicks: false },
        border: { color: '#6e6e6e', width: 1.5 },
        ticks: {
            autoSkip: false,
            maxRotation: 0,
            padding: padding,
            labelOffset: offset,
            color: '#2c2c2c',
            font: { family: 'Liberation Sans', size: 20.5 },
            callback: function (v) { return String(v); }
        }
    };
}

new Chart(document.getElementById('myChart').getContext('2d'), {
    type: 'scatter',
    data: { datasets: layers },
    options: {
        responsive: false,
        animation: false,
        events: [],
        layout: { padding: { top: 73, right: 114, bottom: 0, left: 0 } },
        scales: {
            x: axis(-2.534, 2.529, xTicks, 12, 0, function (s) { s.height = 87; }),
            y: axis(-1.917, 2.082, yTicks, 11, 1, function (s) { s.width = 166; })
        },
        plugins: { legend: { display: false }, tooltip: { enabled: false } }
    },
    plugins: [figurePlugin]
});
</script>
</body>
</html>
